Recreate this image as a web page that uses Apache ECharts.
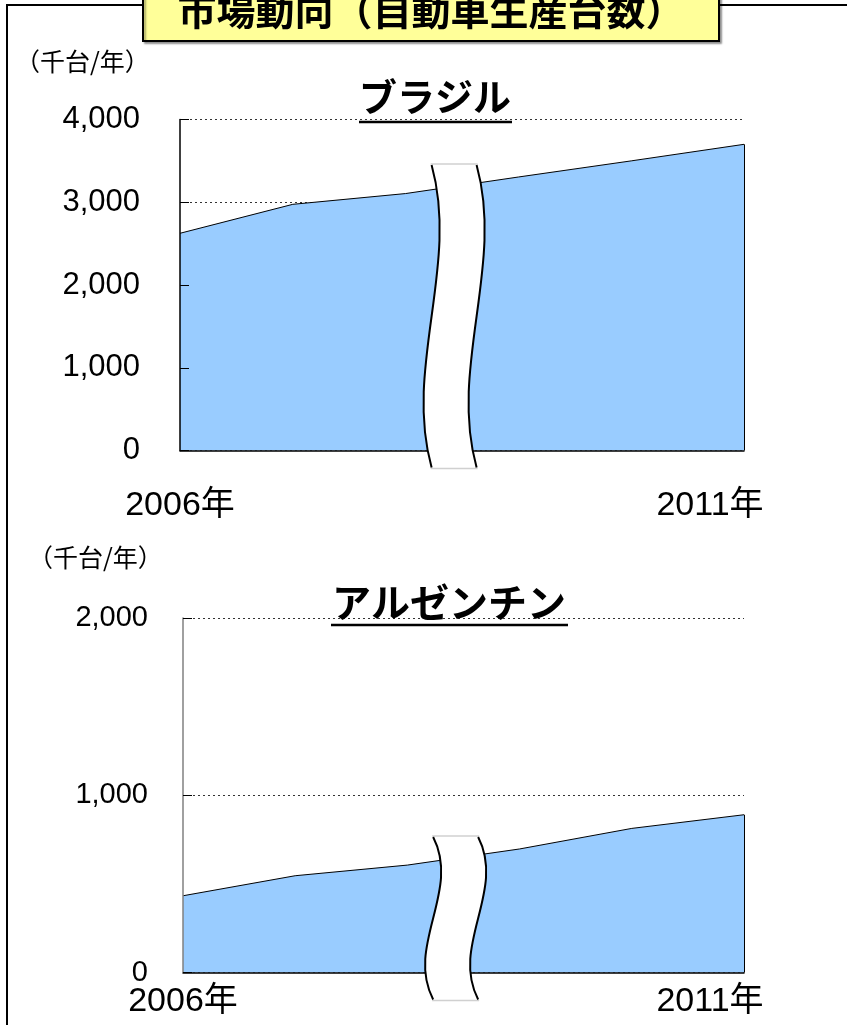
<!DOCTYPE html>
<html>
<head>
<meta charset="utf-8">
<script src="https://cdn.jsdelivr.net/npm/echarts@6/dist/echarts.min.js"></script>
<style>
html,body{margin:0;padding:0;background:#fff;}
#c{width:847px;height:1025px;}
</style>
</head>
<body>
<div id="c"></div>
<script>
// ---- data ----
var categories = ['2006年', '2007年', '2008年', '2009年', '2010年', '2011年'];
var brazil = [2625, 2975, 3105, 3305, 3500, 3700];
var argentina = [433, 546, 606, 697, 813, 890];
var brazilTicks = [0, 1000, 2000, 3000, 4000];
var argentinaTicks = [0, 1000, 2000];
var mainTitle = '市場動向（自動車生産台数）';
var unitLabel = '（千台/年）';
var countryNames = ['ブラジル', 'アルゼンチン'];

var NUM_FONT = '"Liberation Sans", Arial, "Noto Sans CJK JP", sans-serif';
var JP_FONT = '"Noto Sans CJK JP", "Liberation Sans", sans-serif';

var chart = echarts.init(document.getElementById('c'));
var last = categories.length - 1;

function xAxisCfg(gridIndex, margin) {
  return {
    type: 'category', gridIndex: gridIndex, data: categories, boundaryGap: false,
    axisLine: { show: true, lineStyle: { color: '#000', width: 1.5 } },
    axisTick: { show: false },
    z: 5,
    axisLabel: {
      interval: 0, margin: margin,
      formatter: function (v, i) {
        if (i === 0) return '{a|' + v + '}';
        if (i === last) return '{b|' + v + '}';
        return '';
      },
      rich: {
        a: { fontSize: 34, fontFamily: NUM_FONT, color: '#000' },
        b: { fontSize: 34, fontFamily: NUM_FONT, color: '#000', padding: [0, 68, 0, 0] }
      }
    }
  };
}
// base y axis: labels + dotted grid lines (drawn beneath the area)
function yAxisBase(gridIndex, ticks, fontSize, margin) {
  return {
    type: 'value', gridIndex: gridIndex, position: 'left',
    min: ticks[0], max: ticks[ticks.length - 1], interval: 1000,
    z: 0,
    axisLine: { show: false },
    axisTick: { show: false },
    axisLabel: {
      fontSize: fontSize, fontFamily: NUM_FONT, color: '#000', margin: margin,
      formatter: function (v) { return v.toLocaleString('en-US'); }
    },
    splitLine: { show: true, lineStyle: { color: '#333', type: [2, 3], width: 1 } }
  };
}
// overlay y axis: axis line + inside ticks (drawn above the area)
function yAxisOverlay(gridIndex, ticks, lineColor) {
  return {
    type: 'value', gridIndex: gridIndex, position: 'left', offset: 0,
    min: ticks[0], max: ticks[ticks.length - 1], interval: 1000,
    z: 6,
    axisLine: { show: true, onZero: false, lineStyle: { color: lineColor, width: 1.5 } },
    axisTick: { show: true, inside: true, length: 9, lineStyle: { color: '#000', width: 1 } },
    axisLabel: { show: false },
    splitLine: { show: false }
  };
}
function areaSeries(idx, data) {
  return {
    type: 'line', xAxisIndex: idx, yAxisIndex: idx, data: data,
    symbol: 'none', z: 3,
    lineStyle: { color: '#000', width: 1 },
    areaStyle: { color: '#99CCFF', opacity: 1 },
    markLine: {
      silent: true, symbol: 'none', label: { show: false },
      lineStyle: { color: '#000', width: 1, type: 'solid' },
      data: [[{ coord: [categories[last], 0] }, { coord: [categories[last], data[last]] }]]
    }
  };
}

var option = {
  animation: false,
  backgroundColor: '#fff',
  grid: [
    { left: 180, top: 119.5, width: 564, height: 331 },
    { left: 183, top: 618, width: 561, height: 354.5 }
  ],
  xAxis: [xAxisCfg(0, 38), xAxisCfg(1, 12)],
  yAxis: [
    yAxisBase(0, brazilTicks, 31, 40),
    yAxisBase(1, argentinaTicks, 29, 35),
    yAxisOverlay(0, brazilTicks, '#000'),
    yAxisOverlay(1, argentinaTicks, '#808080')
  ],
  series: [areaSeries(0, brazil), areaSeries(1, argentina)]
};
chart.setOption(option);

// ---- decorations ----
function bandElements(gridIdx, topVal, belowAxisPx, id) {
  var p8 = chart.convertToPixel({ xAxisIndex: gridIdx, yAxisIndex: gridIdx }, [2, 0]);
  var p9 = chart.convertToPixel({ xAxisIndex: gridIdx, yAxisIndex: gridIdx }, [3, 0]);
  var pt = chart.convertToPixel({ xAxisIndex: gridIdx, yAxisIndex: gridIdx }, [2, topVal]);
  var cx = p8[0] + 0.43 * (p9[0] - p8[0]);
  var xl = cx - 22.5, xr = cx + 22.5;
  var yt = pt[1], yb = p8[1] + belowAxisPx;
  var H = yb - yt, a = 28;
  function bez(x0, t) {
    var mt = 1 - t;
    var x = mt * mt * mt * x0 + 3 * mt * mt * t * (x0 + a) + 3 * mt * t * t * (x0 - a) + t * t * t * x0;
    return [x, yt + H * t];
  }
  var pts = [], i;
  for (i = 0; i <= 40; i++) pts.push(bez(xl, i / 40));
  for (i = 40; i >= 0; i--) pts.push(bez(xr, i / 40));
  var els = [
    { type: 'polygon', id: id + 'f', z: 50, shape: { points: pts }, style: { fill: '#fff', stroke: null } },
    { type: 'line', id: id + 't', z: 51, shape: { x1: xl - 1, y1: yt - 1, x2: xr + 1, y2: yt - 1 }, style: { stroke: '#d0d0d0', lineWidth: 1.5 } },
    { type: 'line', id: id + 'b', z: 51, shape: { x1: xl - 1, y1: yb + 1, x2: xr + 1, y2: yb + 1 }, style: { stroke: '#d0d0d0', lineWidth: 1.5 } }
  ];
  [xl, xr].forEach(function (x0, k) {
    els.push({
      type: 'bezierCurve', id: id + 's' + k, z: 52,
      shape: { x1: x0, y1: yt, cpx1: x0 + a, cpy1: yt + H / 3, cpx2: x0 - a, cpy2: yt + 2 * H / 3, x2: x0, y2: yb },
      style: { stroke: '#000', lineWidth: 2, fill: null }
    });
  });
  return els;
}

var graphics = [
  // outer frame
  { type: 'polyline', z: 60, shape: { points: [[7, 1030], [7, 5], [850, 5]] }, style: { stroke: '#000', lineWidth: 2, fill: null } },
  // title box
  { type: 'rect', z: 61, shape: { x: 143, y: -12, width: 576, height: 53 },
    style: { fill: '#FFFF99', stroke: '#000', lineWidth: 2, shadowColor: 'rgba(0,0,0,0.35)', shadowOffsetX: 2, shadowOffsetY: 2, shadowBlur: 2 } },
  { type: 'text', z: 62, x: 431, y: 10,
    style: { text: mainTitle, font: 'bold 39px ' + JP_FONT, fill: '#000', textAlign: 'center', textVerticalAlign: 'middle' } },
  // units
  { type: 'text', z: 62, x: 15, y: 61,
    style: { text: unitLabel, font: '25px ' + JP_FONT, fill: '#000', textAlign: 'left', textVerticalAlign: 'middle' } },
  { type: 'text', z: 62, x: 28, y: 557,
    style: { text: unitLabel, font: '25px ' + JP_FONT, fill: '#000', textAlign: 'left', textVerticalAlign: 'middle' } },
  // country names with underline
  { type: 'text', z: 62, x: 435, y: 97,
    style: { text: countryNames[0], font: 'bold 38px ' + JP_FONT, fill: '#000', textAlign: 'center', textVerticalAlign: 'middle' } },
  { type: 'line', z: 62, shape: { x1: 359, y1: 122, x2: 512, y2: 122 }, style: { stroke: '#000', lineWidth: 2.5 } },
  { type: 'text', z: 62, x: 449, y: 602,
    style: { text: countryNames[1], font: 'bold 39px ' + JP_FONT, fill: '#000', textAlign: 'center', textVerticalAlign: 'middle' } },
  { type: 'line', z: 62, shape: { x1: 331, y1: 625, x2: 568, y2: 625 }, style: { stroke: '#000', lineWidth: 2.5 } }
];
graphics = graphics.concat(bandElements(0, 3450, 17, 'b1'), bandElements(1, 764, 27, 'b2'));
chart.setOption({ graphic: graphics });
</script>
</body>
</html>
